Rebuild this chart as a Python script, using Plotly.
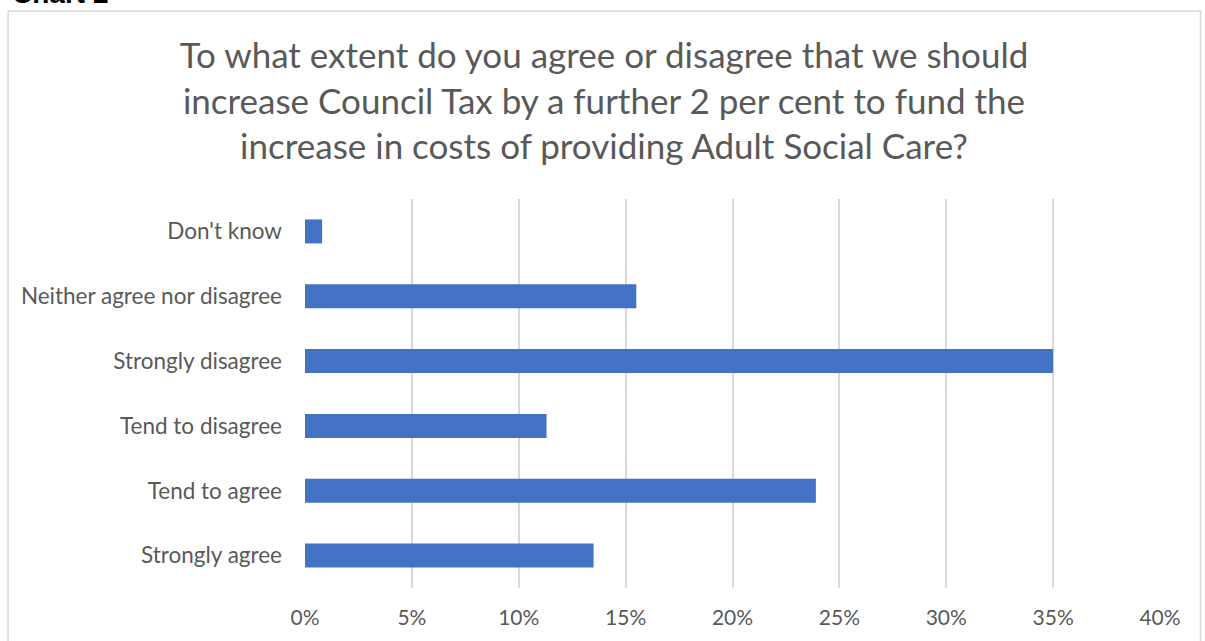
import plotly.graph_objects as go

categories = ["Strongly agree", "Tend to agree", "Tend to disagree",
              "Strongly disagree", "Neither agree nor disagree", "Don't know"]
values = [0.135, 0.239, 0.113, 0.350, 0.155, 0.008]
x_ticks = [0, 0.05, 0.10, 0.15, 0.20, 0.25, 0.30, 0.35, 0.40]
x_tick_labels = ["0%", "5%", "10%", "15%", "20%", "25%", "30%", "35%", "40%"]
title_text = ("To what extent do you agree or disagree that we should<br>"
              "increase Council Tax by a further 2 per cent to fund the<br>"
              "increase in costs of providing Adult Social Care?")

W, H = 1205, 641
L, R, T, B = 304.5, 1160, 198.5, 588.5

fig = go.Figure(go.Bar(
    x=values, y=categories, orientation="h",
    marker=dict(color="#4472C4", line=dict(width=0)),
    width=0.37, hoverinfo="x+y",
))

def px_x(p):
    return (p - L) / (R - L)

def px_y(p):
    return (B - p) / (B - T)

fig.update_layout(
    width=W, height=H,
    margin=dict(l=L, r=W - R, t=T, b=H - B),
    paper_bgcolor="white", plot_bgcolor="white",
    font=dict(family="Lato, 'Open Sans', sans-serif", color="#595959"),
    showlegend=False,
    title=dict(text=title_text, x=604 / W, xref="container", xanchor="center",
               y=1 - 68 / H, yref="container", yanchor="top",
               font=dict(size=35, color="#595959")),
    xaxis=dict(range=[0, 0.40], tickvals=x_ticks, ticktext=x_tick_labels,
               showgrid=True, gridcolor="#D9D9D9", gridwidth=2,
               zeroline=False, showline=False, ticks="",
               ticklabelstandoff=15,
               tickfont=dict(size=21, color="#595959"), fixedrange=True),
    yaxis=dict(categoryorder="array", categoryarray=categories,
               range=[-0.5, 5.5], showgrid=False, zeroline=False,
               showline=False, ticks="", ticklabelstandoff=22,
               tickfont=dict(size=22.5, color="#595959"), fixedrange=True),
    shapes=[dict(type="rect", xref="paper", yref="paper",
                 x0=px_x(7.5), x1=px_x(1200.5), y0=px_y(700), y1=px_y(10),
                 line=dict(color="#D9D9D9", width=1.5), fillcolor="rgba(0,0,0,0)",
                 layer="below")],
    annotations=[dict(text="<b>Chart 2</b>", xref="paper", yref="paper",
                      x=px_x(9), y=px_y(10), xanchor="left", yanchor="bottom",
                      showarrow=False, font=dict(size=28, color="#000000",
                                                 family="Liberation Sans, Arial"))],
)

fig.write_html("out.html", config={"displayModeBar": False},
               post_script="document.body.style.margin='0';")
